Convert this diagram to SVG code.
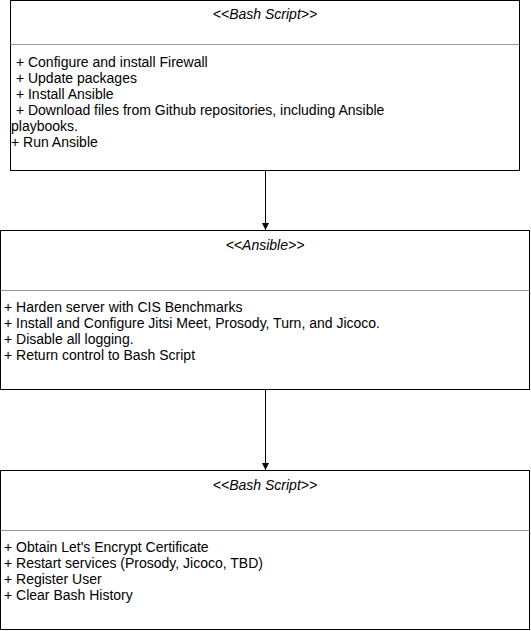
<svg xmlns="http://www.w3.org/2000/svg" width="531" height="631" viewBox="0 0 531 631">
<style>
.box{fill:#fff;stroke:#000;stroke-width:1}
.div{stroke:#999;stroke-width:1}
text{font-family:"Liberation Sans",Arial,Helvetica,sans-serif;font-size:14px;fill:#000}
.title{font-style:italic;text-anchor:middle}
.conn{stroke:#000;stroke-width:1;fill:none}
</style>
<defs>
<marker id="arr" viewBox="0 0 10 10" refX="10" refY="5" markerWidth="7" markerHeight="7" markerUnits="userSpaceOnUse" orient="auto">
<path d="M0,0 L10,5 L0,10 Z" fill="#000"/>
</marker>
</defs>
<rect width="531" height="631" fill="#fff"/>
<g id="bash1">
<rect class="box" x="10.5" y="0.5" width="509" height="170"/>
<line class="div" x1="10.5" y1="44.5" x2="519.5" y2="44.5"/>
<text class="title" x="265" y="18.5">&lt;&lt;Bash Script&gt;&gt;</text>
<text x="12" y="66.5" xml:space="preserve"> + Configure and install Firewall</text>
<text x="12" y="82.5" xml:space="preserve"> + Update packages</text>
<text x="12" y="98.5" xml:space="preserve"> + Install Ansible</text>
<text x="12" y="114.5" xml:space="preserve"> + Download files from Github repositories, including Ansible</text>
<text x="11" y="130.5">playbooks.</text>
<text x="11" y="146.5">+ Run Ansible</text>
</g>
<g id="ansible">
<rect class="box" x="0.5" y="230.5" width="529" height="159"/>
<line class="div" x1="0.5" y1="290.5" x2="529.5" y2="290.5"/>
<text class="title" x="265" y="250">&lt;&lt;Ansible&gt;&gt;</text>
<text x="4" y="311.5">+ Harden server with CIS Benchmarks</text>
<text x="4" y="327.5">+ Install and Configure Jitsi Meet, Prosody, Turn, and Jicoco.</text>
<text x="4" y="343.5">+ Disable all logging.</text>
<text x="4" y="359.5">+ Return control to Bash Script</text>
</g>
<g id="bash2">
<rect class="box" x="0.5" y="470.5" width="529" height="159"/>
<line class="div" x1="0.5" y1="530.5" x2="529.5" y2="530.5"/>
<text class="title" x="265" y="489.5">&lt;&lt;Bash Script&gt;&gt;</text>
<text x="4" y="551.5">+ Obtain Let's Encrypt Certificate</text>
<text x="4" y="567.5">+ Restart services (Prosody, Jicoco, TBD)</text>
<text x="4" y="583.5">+ Register User</text>
<text x="4" y="599.5">+ Clear Bash History</text>
</g>
<g id="connectors">
<line class="conn" x1="265.5" y1="171" x2="265.5" y2="230" marker-end="url(#arr)"/>
<line class="conn" x1="265.5" y1="390" x2="265.5" y2="470" marker-end="url(#arr)"/>
</g>
</svg>
